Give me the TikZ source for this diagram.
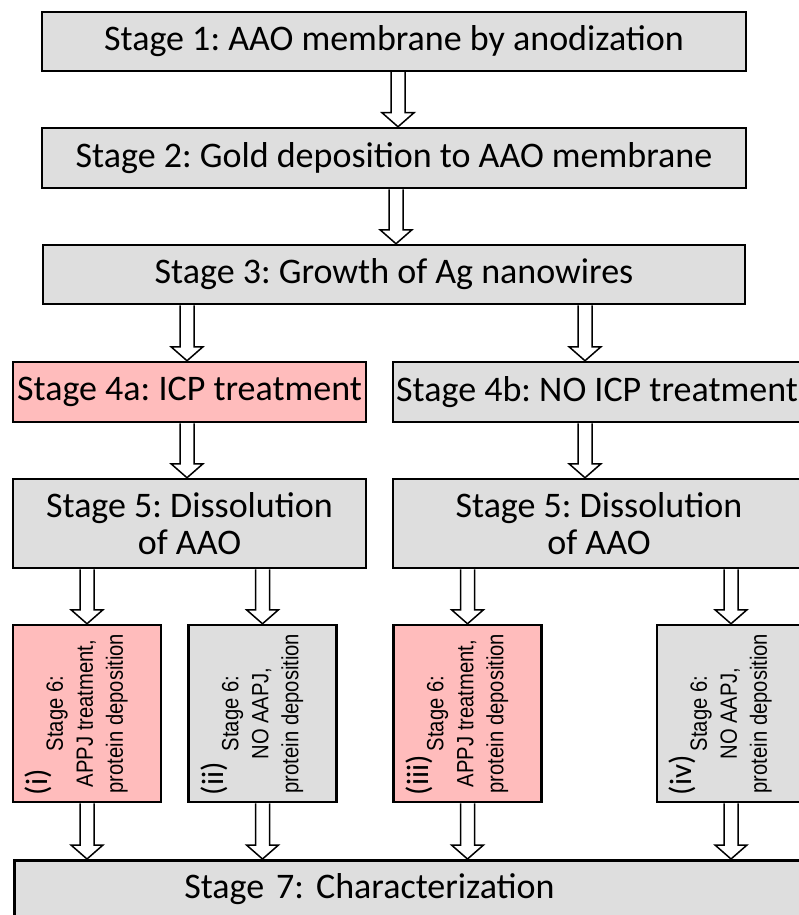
\documentclass[tikz,border=0pt]{standalone}
\usepackage{fontspec}
\setmainfont{Carlito}
\newfontfamily\arialfont[FakeStretch=0.86]{Liberation Sans}
\frenchspacing
\usetikzlibrary{calc,backgrounds}
\definecolor{boxgrey}{RGB}{222,222,222}
\definecolor{boxpink}{RGB}{255,188,188}
\tikzset{greybox/.style={draw=black, line width=2.5pt, fill=boxgrey, inner sep=2pt,
font=\fontsize{36}{37}\selectfont, align=center},
pinkbox/.style={greybox, fill=boxpink},
hollow/.style={draw=black, line width=1.5pt, fill=white, line join=miter},
sixtext/.style={rotate=90, minimum width=177, minimum height=148,
font=\arialfont\fontsize{23.5}{30}\selectfont},
romanlabel/.style={rotate=90, anchor=north west, inner xsep=8pt, inner ysep=13pt,
font=\fontsize{31}{31}\selectfont}}
\newcommand{\hollowarrow}[2]{\draw[hollow] let \p1=(#1), \p2=(#2) in
(\x1-7pt,\y1) -- (\x1-7pt,\y2+14pt) -- (\x1-16pt,\y2+14pt) -- (\x1,\y2)
-- (\x1+16pt,\y2+14pt) -- (\x1+7pt,\y2+14pt) -- (\x1+7pt,\y1);}

\begin{document}
\begin{tikzpicture}[x=1pt,y=-1pt]
	\useasboundingbox (0,0) rectangle (798,915);
	\node[greybox, minimum width=704, minimum height=59] (s1) at (394,41.5) {Stage 1: AAO membrane by anodization};
	\node[greybox, minimum width=704, minimum height=60] (s2) at (394,158) {Stage 2: Gold deposition to AAO membrane};
	\node[greybox, minimum width=702, minimum height=59] (s3) at (394,274.5) {Stage 3: Growth of Ag nanowires};
	\node[pinkbox, minimum width=353, minimum height=60] (s4a) at (189.5,392) {Stage 4a: ICP treatment};
	\node[greybox, minimum width=408, minimum height=60] (s4b) at (597,392) {Stage 4b: NO ICP treatment};
	\node[greybox, minimum width=353, minimum height=89] (s5a) at (189.5,523.5) {Stage 5: Dissolution\\of AAO};
	\node[greybox, minimum width=412, minimum height=89] (s5b) at (599,523.5) {Stage 5: Dissolution\\of AAO};
	\node[pinkbox, sixtext] (s6i) at (87,713.5) {Stage 6:\\APPJ treatment,\\protein deposition};
	\node[greybox, sixtext] (s6ii) at (262.5,713.5) {Stage 6:\\NO AAPJ,\\protein deposition};
	\node[pinkbox, sixtext] (s6iii) at (467.5,713.5) {Stage 6:\\APPJ treatment,\\protein deposition};
	\node[greybox, sixtext] (s6iv) at (731,713.5) {Stage 6:\\NO AAPJ,\\protein deposition};
	\node[romanlabel] (li) at (s6i.north west) {(i)};
	\node[romanlabel] (lii) at (s6ii.north west) {(ii)};
	\node[romanlabel] (liii) at (s6iii.north west) {(iii)};
	\node[romanlabel] (liv) at (s6iv.north west) {(iv)};
	\node[greybox, anchor=north west, minimum height=58, text width=790, inner xsep=0pt, align=left] (s7) at (13,859) {\hspace*{170pt}Stage 7: Characterization};
	\begin{scope}[on background layer]
		\fill[white] (0,0) rectangle (798,915);
		\hollowarrow{$(s1.south)+(4,0)$}{s2.north}
		\hollowarrow{$(s2.south)+(2,0)$}{s3.north}
		\hollowarrow{$(s3.south -| s4a.north)+(-2.5,0)$}{s4a.north}
		\hollowarrow{$(s3.south -| s4b.north)+(-12,0)$}{s4b.north}
		\hollowarrow{$(s4a.south)+(-2.5,0)$}{s5a.north}
		\hollowarrow{$(s4b.south)+(-12,0)$}{s5b.north}
		\hollowarrow{s5a.south -| s6i.east}{s6i.east}
		\hollowarrow{s5a.south -| s6ii.east}{s6ii.east}
		\hollowarrow{s5b.south -| s6iii.east}{s6iii.east}
		\hollowarrow{s5b.south -| s6iv.east}{s6iv.east}
		\hollowarrow{s6i.west}{s7.north}
		\hollowarrow{s6ii.west}{s7.north}
		\hollowarrow{s6iii.west}{s7.north}
		\hollowarrow{s6iv.west}{s7.north}
	\end{scope}
\end{tikzpicture}
\end{document}
